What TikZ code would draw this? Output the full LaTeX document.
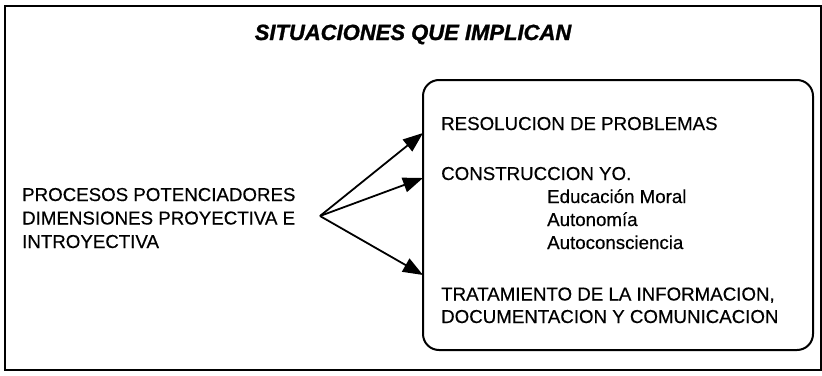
\documentclass[tikz,border=0pt]{standalone}
\usepackage{fontspec}
\setmainfont{Liberation Sans}[FakeBold=0.4]
\newfontfamily\ttlfont{Liberation Sans}[FakeBold=1.2]
\usetikzlibrary{arrows.meta}
\tikzset{
  frame/.style={draw=black, line width=1.8pt},
  roundbox/.style={draw=black, line width=2pt, rounded corners=16pt},
  txt/.style={anchor=base west, inner sep=0pt, font=\fontsize{18.7}{22}\selectfont},
  ttl/.style={anchor=base, inner sep=0pt, font=\ttlfont\fontsize{22}{26}\selectfont\bfseries\itshape},
  arr/.style={line width=1.8pt, -{Triangle[length=20pt,width=15pt]}}
}
\begin{document}
\begin{tikzpicture}[x=1pt,y=-1pt]
\useasboundingbox (0,0) rectangle (822,375);
\draw[frame] (5,6) rectangle (821,370);
\node[ttl] (title) at (413,40) {SITUACIONES QUE IMPLICAN};
\draw[roundbox] (423,80) rectangle (813,350);
\node[txt] (l1) at (22,201) {PROCESOS POTENCIADORES};
\node[txt] (l2) at (22,224.5) {DIMENSIONES PROYECTIVA E};
\node[txt] (l3) at (22,248) {INTROYECTIVA};
\node[txt] (r1) at (441,130) {RESOLUCION DE PROBLEMAS};
\node[txt] (r2) at (441,180) {CONSTRUCCION YO.};
\node[txt] (r3) at (547,203) {Educación Moral};
\node[txt] (r4) at (547,226) {Autonomía};
\node[txt] (r5) at (547,249) {Autoconsciencia};
\node[txt] (r6) at (441,300.5) {TRATAMIENTO DE LA INFORMACION,};
\node[txt] (r7) at (441,323) {DOCUMENTACION Y COMUNICACION};
\coordinate (o) at (320,216);
\coordinate (t1) at (423,133);
\coordinate (t2) at (423,178);
\coordinate (t3) at (423,275);
\draw[arr] (o) -- (t1);
\draw[arr] (o) -- (t2);
\draw[arr] (o) -- (t3);
\end{tikzpicture}
\end{document}
